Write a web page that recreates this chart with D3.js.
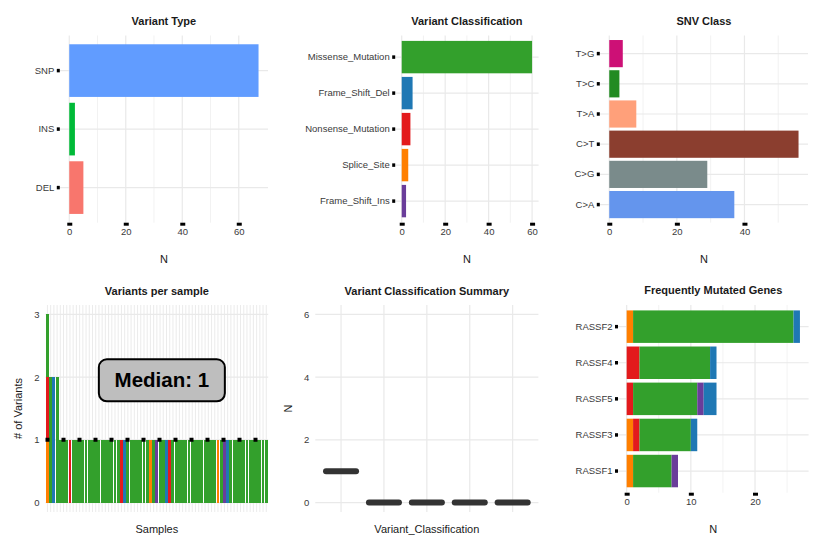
<!DOCTYPE html>
<html><head><meta charset="utf-8">
<script src="https://cdn.jsdelivr.net/npm/d3@7"></script>
<style>
body{margin:0;background:#fff;}
svg{display:block;font-family:"Liberation Sans",Arial,Helvetica,sans-serif;}
</style></head>
<body><svg id="c" width="830" height="553"></svg>
<script>
// ---------------- DATA ----------------
const variantTypes = ["SNP", "INS", "DEL"];
const variantTypeCounts = [67, 2, 5];

const vcClasses = ["Missense_Mutation", "Frame_Shift_Del", "Nonsense_Mutation", "Splice_Site", "Frame_Shift_Ins"];
const vcCounts = [60, 5, 4, 3, 2];

const snvClasses = ["T>G", "T>C", "T>A", "C>T", "C>G", "C>A"];
const snvCounts = [4, 3, 8, 56, 29, 37];

const genes = ["RASSF2", "RASSF4", "RASSF5", "RASSF3", "RASSF1"];
const geneSplice   = [1, 0, 0, 1, 1];
const geneNonsense = [0, 2, 1, 1, 0];
const geneMissense = [25, 11, 10, 8, 6];
const geneFSIns    = [0, 0, 1, 0, 1];
const geneFSDel    = [1, 1, 2, 1, 0];

// variants per sample (69 samples, sorted by total)
const sampleSplice = [1,0,0,0,0,0,0,0,0,0, 0,0,0,0,0,0,0,0,0,0, 0,0,0,0,0,0,0,0,0,0, 0,0,1,0,0,0,0,0,0,0, 0,0,0,0,0,0,0,0,0,0, 0,0,0,1,0,0,0,0,0,0, 0,0,0,0,0,0,0,0,0];
const sampleNonsense = [1,0,0,0,0,0,0,1,0,0, 0,0,0,0,0,0,0,0,0,0, 0,0,0,1,0,0,0,0,0,0, 0,0,0,0,0,0,0,0,1,0, 0,0,0,0,0,0,0,0,0,0, 0,0,0,0,0,0,0,0,0,0, 0,0,0,0,0,0,0,0,0];
const sampleMissense = [1,2,0,2,1,1,1,0,1,1, 1,1,1,1,1,1,1,1,1,1, 1,1,1,0,0,1,1,1,1,1, 1,1,0,1,0,1,1,0,0,1, 1,1,1,1,1,1,1,1,1,1, 1,1,1,0,1,0,0,1,1,1, 1,1,1,1,1,1,1,1,1];
const sampleFSIns = [0,0,0,0,0,0,0,0,0,0, 0,0,0,0,0,0,0,0,0,0, 0,0,0,0,0,0,0,0,0,0, 0,0,0,0,1,0,0,0,0,0, 0,0,0,0,0,0,0,0,0,0, 0,0,0,0,0,1,0,0,0,0, 0,0,0,0,0,0,0,0,0];
const sampleFSDel = [0,0,2,0,0,0,0,0,0,0, 0,0,0,0,0,0,0,0,0,0, 0,0,0,0,1,0,0,0,0,0, 0,0,0,0,0,0,0,1,0,0, 0,0,0,0,0,0,0,0,0,0, 0,0,0,0,0,0,1,0,0,0, 0,0,0,0,0,0,0,0,0];
const medianVariants = 1;

const summaryMedians = [1, 0, 0, 0, 0];
const summaryYTicks = [0, 2, 4, 6];

// ---------------- STYLE ----------------
const vtColors = {"SNP":"#619CFF","INS":"#00BA38","DEL":"#F8766D"};
const vcColors = {"Missense_Mutation":"#33A02C","Frame_Shift_Del":"#1F78B4","Nonsense_Mutation":"#E31A1C","Splice_Site":"#FF7F00","Frame_Shift_Ins":"#6A3D9A"};
const snvColors = {"T>G":"#CD1076","T>C":"#228B22","T>A":"#FFA07A","C>T":"#8B3E2F","C>G":"#7A8B8B","C>A":"#6495ED"};
const GRID = "#e9e9e9", TXT = "#3a3a3a";

const svg = d3.select("#c");

function title(x, y, t){
  svg.append("text").attr("x", x).attr("y", y).attr("text-anchor","middle")
    .attr("font-size","11px").attr("font-weight","bold").attr("fill","#1a1a1a").text(t);
}
function axisTitle(x, y, t, rot){
  const g = svg.append("text").attr("text-anchor","middle").attr("font-size","11px").attr("fill","#1a1a1a").text(t);
  if (rot) g.attr("transform", `translate(${x},${y}) rotate(-90)`);
  else g.attr("x", x).attr("y", y);
}
function styleAxis(g, tw){
  g.select(".domain").remove();
  g.selectAll(".tick line").attr("stroke","#000").attr("stroke-width", tw);
  g.selectAll(".tick text").attr("fill", TXT).attr("font-size","9.5px").attr("font-family","Liberation Sans, Arial, sans-serif");
}

// horizontal bar panel
function hbar(cfg){
  const {cats, left, right, top, bottom, xmax, ticks, minor, tt} = cfg;
  const x = d3.scaleLinear().domain([-0.05*xmax, xmax*1.05]).range([left, right]);
  const y = d3.scaleBand().domain(cats).range([top, bottom]).paddingInner(0.1).paddingOuter(0.15);
  const g = svg.append("g");
  g.selectAll(".mn").data(minor).join("line").attr("x1",d=>x(d)).attr("x2",d=>x(d))
    .attr("y1",top).attr("y2",bottom).attr("stroke",GRID).attr("stroke-width",0.6);
  g.selectAll(".mj").data(ticks).join("line").attr("x1",d=>x(d)).attr("x2",d=>x(d))
    .attr("y1",top).attr("y2",bottom).attr("stroke",GRID).attr("stroke-width",1.2);
  g.selectAll(".hy").data(cats).join("line").attr("x1",left).attr("x2",right)
    .attr("y1",d=>y(d)+y.bandwidth()/2).attr("y2",d=>y(d)+y.bandwidth()/2).attr("stroke",GRID).attr("stroke-width",1.2);
  const ax = svg.append("g").attr("transform",`translate(0,${bottom})`)
    .call(d3.axisBottom(x).tickValues(ticks).tickFormat(d3.format("d")).tickSize(3).tickPadding(3));
  styleAxis(ax, 5);
  const ay = svg.append("g").attr("transform",`translate(${left},0)`)
    .call(d3.axisLeft(y).tickSize(3).tickPadding(2.5));
  styleAxis(ay, 3.5);
  title((left+right)/2, top-11, tt);
  axisTitle((left+right)/2, bottom + 40, "N");
  return {x, y, g};
}

// ---- Panel 1: Variant Type
{
  const p = hbar({cats: variantTypes, left: 59.8, right: 268, top: 35.5, bottom: 222.7,
    xmax: d3.max(variantTypeCounts), ticks:[0,20,40,60], minor:[10,30,50], tt:"Variant Type"});
  p.g.selectAll(".b").data(variantTypes).join("rect")
    .attr("x", p.x(0)).attr("y", d=>p.y(d)).attr("height", p.y.bandwidth())
    .attr("width", (d,i)=>p.x(variantTypeCounts[i])-p.x(0)).attr("fill", d=>vtColors[d]);
}
// ---- Panel 2: Variant Classification
{
  const p = hbar({cats: vcClasses, left: 395.2, right: 538.6, top: 35.5, bottom: 222.7,
    xmax: d3.max(vcCounts), ticks:[0,20,40,60], minor:[10,30,50], tt:"Variant Classification"});
  p.g.selectAll(".b").data(vcClasses).join("rect")
    .attr("x", p.x(0)).attr("y", d=>p.y(d)).attr("height", p.y.bandwidth())
    .attr("width", (d,i)=>p.x(vcCounts[i])-p.x(0)).attr("fill", d=>vcColors[d]);
}
// ---- Panel 3: SNV Class
{
  const p = hbar({cats: snvClasses, left: 599.8, right: 808, top: 35.5, bottom: 222.7,
    xmax: d3.max(snvCounts), ticks:[0,20,40], minor:[10,30,50], tt:"SNV Class"});
  p.g.selectAll(".b").data(snvClasses).join("rect")
    .attr("x", p.x(0)).attr("y", d=>p.y(d)).attr("height", p.y.bandwidth())
    .attr("width", (d,i)=>p.x(snvCounts[i])-p.x(0)).attr("fill", d=>snvColors[d]);
}
// ---- Panel 6: Frequently Mutated Genes
{
  const keys = ["Splice_Site","Nonsense_Mutation","Missense_Mutation","Frame_Shift_Ins","Frame_Shift_Del"];
  const src = {"Splice_Site":geneSplice,"Nonsense_Mutation":geneNonsense,"Missense_Mutation":geneMissense,"Frame_Shift_Ins":geneFSIns,"Frame_Shift_Del":geneFSDel};
  const rows = genes.map((g,i)=>{const o={gene:g}; keys.forEach(k=>o[k]=src[k][i]); return o;});
  const stacked = d3.stack().keys(keys)(rows);
  const totals = rows.map(r=>d3.sum(keys, k=>r[k]));
  const p = hbar({cats: genes, left: 618, right: 808.6, top: 305, bottom: 492.7,
    xmax: d3.max(totals), ticks:[0,10,20], minor:[5,15,25], tt:"Frequently Mutated Genes"});
  p.g.selectAll(".s").data(stacked).join("g").attr("fill", s=>vcColors[s.key])
    .selectAll("rect").data(s=>s).join("rect")
    .attr("y", d=>p.y(d.data.gene)).attr("height", p.y.bandwidth())
    .attr("x", d=>p.x(d[0])).attr("width", d=>Math.max(0, p.x(d[1])-p.x(d[0])));
}
// ---- Panel 4: Variants per sample
{
  const left = 45.5, right = 268.2, top = 305, bottom = 512;
  const keys = ["Splice_Site","Nonsense_Mutation","Missense_Mutation","Frame_Shift_Ins","Frame_Shift_Del"];
  const src = {"Splice_Site":sampleSplice,"Nonsense_Mutation":sampleNonsense,"Missense_Mutation":sampleMissense,"Frame_Shift_Ins":sampleFSIns,"Frame_Shift_Del":sampleFSDel};
  const rows = sampleMissense.map((_,i)=>{const o={i}; keys.forEach(k=>o[k]=src[k][i]); return o;});
  const totals = rows.map(r=>d3.sum(keys,k=>r[k]));
  const ymax = d3.max(totals);
  const x = d3.scaleBand().domain(rows.map(r=>r.i)).range([left,right]).paddingInner(0.1).paddingOuter(0.15);
  const y = d3.scaleLinear().domain([-0.05*ymax, ymax*1.05]).range([bottom, top]);
  const g = svg.append("g");
  g.selectAll(".vg").data(rows).join("line")
    .attr("x1",d=>x(d.i)+x.bandwidth()/2).attr("x2",d=>x(d.i)+x.bandwidth()/2)
    .attr("y1",top).attr("y2",bottom).attr("stroke",GRID).attr("stroke-width",0.9);
  const yt = d3.range(0, ymax+1);
  g.selectAll(".hg").data(yt).join("line").attr("x1",left).attr("x2",right)
    .attr("y1",d=>y(d)).attr("y2",d=>y(d)).attr("stroke",GRID).attr("stroke-width",1.2);
  const stacked = d3.stack().keys(keys)(rows);
  g.selectAll(".s").data(stacked).join("g").attr("fill", s=>vcColors[s.key])
    .attr("shape-rendering","crispEdges")
    .selectAll("rect").data(s=>s.filter(d=>d[1]>d[0])).join("rect")
    .attr("x", d=>x(d.data.i)).attr("width", x.bandwidth())
    .attr("y", d=>y(d[1])).attr("height", d=>y(d[0])-y(d[1]));
  g.append("line").attr("x1",left).attr("x2",right).attr("y1",y(medianVariants)).attr("y2",y(medianVariants))
    .attr("stroke","#000").attr("stroke-width",4).attr("stroke-dasharray","4 12");
  const ay = svg.append("g").attr("transform",`translate(${left},0)`)
    .call(d3.axisLeft(y).tickValues(yt).tickFormat(d3.format("d")).tickSize(0).tickPadding(6));
  styleAxis(ay, 0);
  const cx = (left+right)/2 + 5, cy = y(1.95);
  g.append("rect").attr("x", cx-63).attr("y", cy-21).attr("width",126).attr("height",42)
    .attr("rx",8).attr("fill","#bebebe").attr("stroke","#000").attr("stroke-width",2);
  g.append("text").attr("x",cx).attr("y",cy+7).attr("text-anchor","middle")
    .attr("font-size","20.5px").attr("font-weight","bold").attr("fill","#000").text("Median: " + medianVariants);
  title((left+right)/2, 295, "Variants per sample");
  axisTitle((left+right)/2, 533, "Samples");
  axisTitle(22, (top+bottom)/2, "# of Variants", true);
}
// ---- Panel 5: Variant Classification Summary
{
  const left = 315.3, right = 538.4, top = 305, bottom = 512;
  const ymax = d3.max(summaryYTicks);
  const x = d3.scaleBand().domain(vcClasses).range([left,right]).paddingInner(0.1).paddingOuter(0.15);
  const y = d3.scaleLinear().domain([-0.05*ymax, ymax*1.05]).range([bottom, top]);
  const g = svg.append("g");
  g.selectAll(".vg").data(vcClasses).join("line")
    .attr("x1",d=>x(d)+x.bandwidth()/2).attr("x2",d=>x(d)+x.bandwidth()/2)
    .attr("y1",top).attr("y2",bottom).attr("stroke",GRID).attr("stroke-width",1.2);
  g.selectAll(".hg").data(summaryYTicks).join("line").attr("x1",left).attr("x2",right)
    .attr("y1",d=>y(d)).attr("y2",d=>y(d)).attr("stroke",GRID).attr("stroke-width",1.2);
  const half = x.step()*0.35;
  g.selectAll(".bx").data(vcClasses).join("line")
    .attr("x1",d=>x(d)+x.bandwidth()/2-half).attr("x2",d=>x(d)+x.bandwidth()/2+half)
    .attr("y1",(d,i)=>y(summaryMedians[i])).attr("y2",(d,i)=>y(summaryMedians[i]))
    .attr("stroke","#333333").attr("stroke-width",6).attr("stroke-linecap","round");
  const ay = svg.append("g").attr("transform",`translate(${left},0)`)
    .call(d3.axisLeft(y).tickValues(summaryYTicks).tickFormat(d3.format("d")).tickSize(0).tickPadding(6));
  styleAxis(ay, 0);
  title((left+right)/2, 295, "Variant Classification Summary");
  axisTitle((left+right)/2, 533, "Variant_Classification");
  axisTitle(292, (top+bottom)/2, "N", true);
}
</script></body></html>
